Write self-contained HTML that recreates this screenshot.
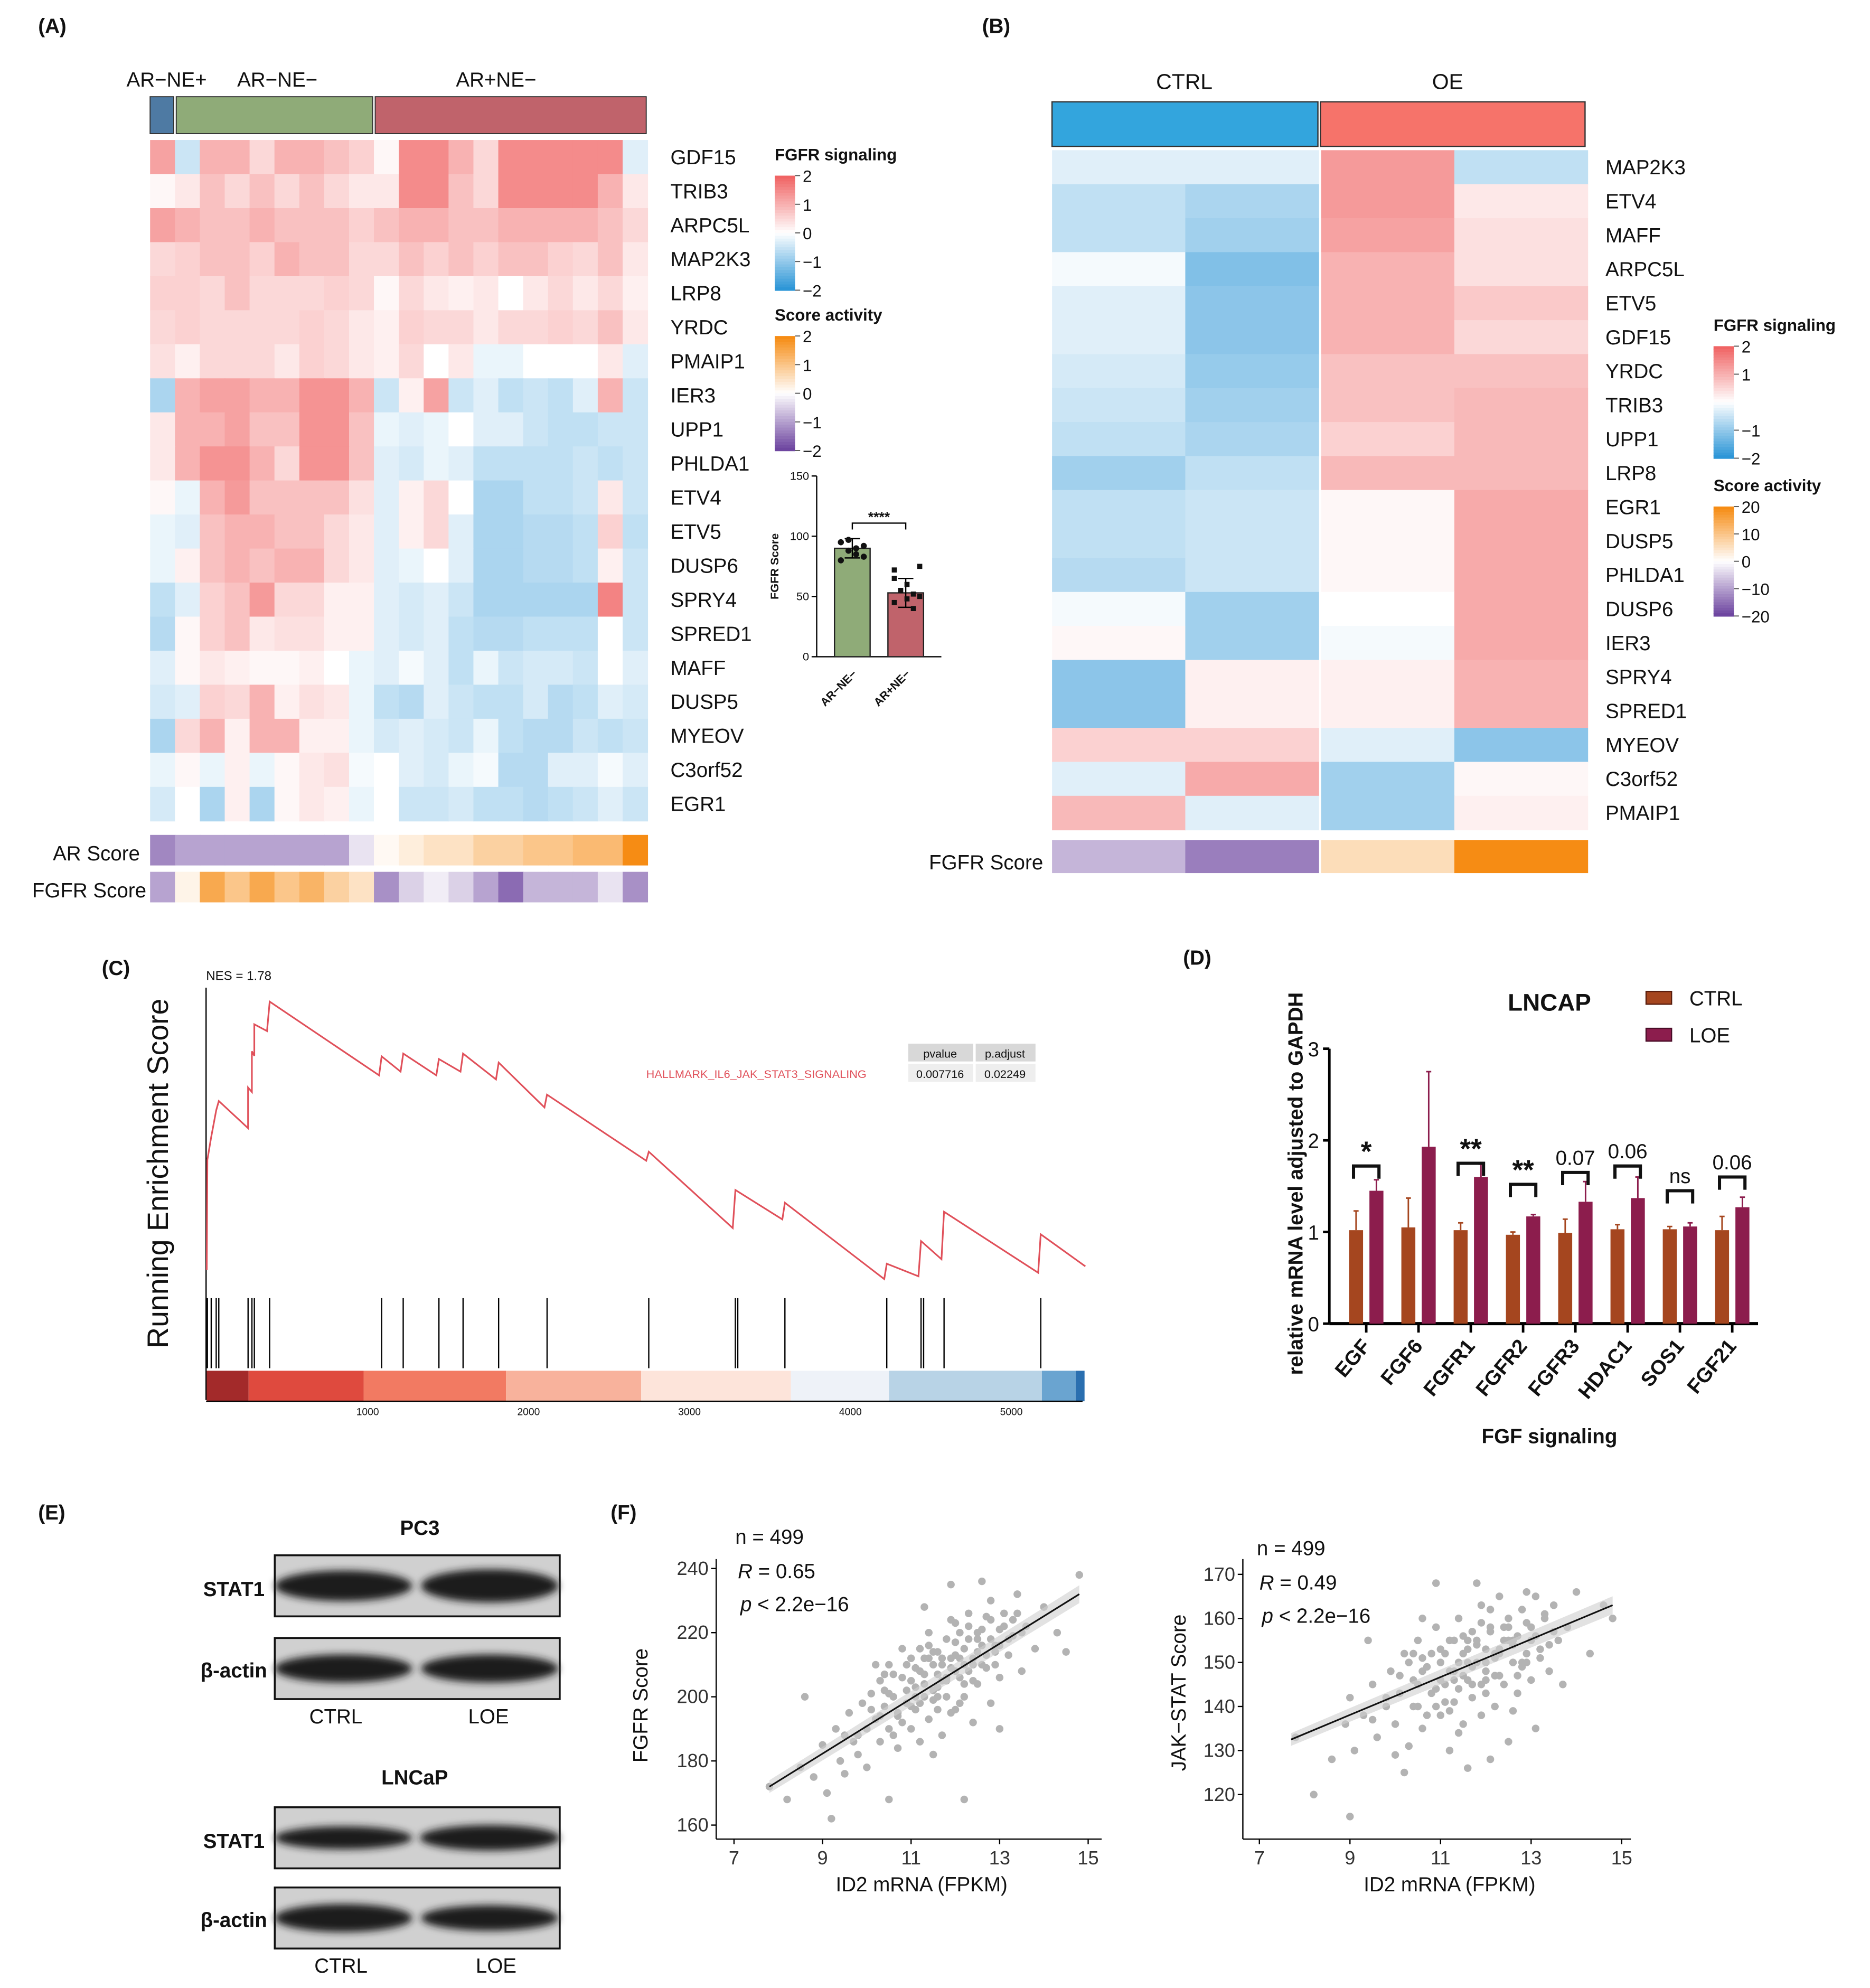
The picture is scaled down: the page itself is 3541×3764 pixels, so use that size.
<!DOCTYPE html>
<html><head><meta charset="utf-8"><style>
html,body{margin:0;padding:0;background:#fff;}
svg{display:block;font-family:"Liberation Sans",Arial,sans-serif;}
</style></head><body>
<svg id="fig" xmlns="http://www.w3.org/2000/svg" width="3541" height="3764" viewBox="0 0 1470 1562" preserveAspectRatio="none">
<defs><filter id="blur" x="-20%" y="-50%" width="140%" height="200%"><feGaussianBlur stdDeviation="3"/></filter></defs>
</svg>
<script>
// ---------- DATA ----------
const genesA=["GDF15","TRIB3","ARPC5L","MAP2K3","LRP8","YRDC","PMAIP1","IER3","UPP1","PHLDA1","ETV4","ETV5","DUSP6","SPRY4","SPRED1","MAFF","DUSP5","MYEOV","C3orf52","EGR1"];
const heatA=[
[1.2,-0.5,1,1,0.5,1,1,0.8,0.6,0.1,1.5,1.5,1,0.5,1.5,1.5,1.5,1.5,1.5,-0.3],
[0.1,0.3,0.8,0.5,0.8,0.5,0.8,0.5,0.3,0.3,1.5,1.5,0.8,0.5,1.5,1.5,1.5,1.5,1.0,0.3],
[1.2,1,0.8,0.8,1,0.8,0.8,0.8,0.6,0.8,1,1,0.8,0.8,1,1,1,1,0.8,0.5],
[0.5,0.6,0.8,0.8,0.6,1,0.8,0.8,0.5,0.5,0.8,0.6,0.8,0.6,0.8,0.8,0.6,0.5,0.8,0.3],
[0.6,0.6,0.5,0.8,0.5,0.5,0.5,0.6,0.5,0.1,0.5,0.3,0.2,0.3,0,0.3,0.5,0.3,0.5,0.2],
[0.5,0.6,0.5,0.5,0.5,0.5,0.6,0.5,0.3,0.2,0.6,0.5,0.5,0.3,0.5,0.5,0.6,0.5,0.8,0.3],
[0.4,0.2,0.5,0.5,0.5,0.3,0.6,0.5,0.3,0.2,0.5,0,0.3,-0.2,-0.2,0,0,0,0.3,-0.3],
[-0.8,1,1.2,1.2,1,1,1.4,1.4,1,-0.5,0.2,1.2,-0.5,-0.3,-0.6,-0.5,-0.6,-0.3,1,-0.5],
[0.3,1,1,1.2,0.8,0.8,1.4,1.4,0.8,-0.2,-0.3,-0.2,0,-0.3,-0.3,-0.5,-0.6,-0.6,-0.5,-0.5],
[0.3,1,1.4,1.4,1,0.5,1.4,1.4,0.8,-0.3,-0.4,-0.2,-0.3,-0.6,-0.6,-0.6,-0.6,-0.5,-0.6,-0.5],
[0.1,-0.2,1,1.3,0.8,0.8,0.8,0.8,0.4,-0.3,0.2,0.5,0,-0.8,-0.8,-0.6,-0.6,-0.5,0.3,-0.5],
[-0.2,-0.3,0.8,1,1,0.8,0.8,0.5,0.3,-0.3,0.2,0.5,-0.3,-0.8,-0.8,-0.7,-0.7,-0.6,0.6,-0.6],
[-0.2,0.2,0.8,1,0.8,1,1,0.5,0.3,-0.3,-0.2,0,-0.3,-0.8,-0.8,-0.7,-0.7,-0.6,0.2,-0.5],
[-0.6,-0.3,0.6,0.8,1.3,0.5,0.5,0.2,0.2,-0.3,-0.4,-0.3,-0.5,-0.8,-0.8,-0.8,-0.8,-0.8,1.6,-0.5],
[-0.7,0.1,0.6,0.8,0.3,0.4,0.4,0.2,0.2,-0.3,-0.4,-0.3,-0.6,-0.7,-0.7,-0.6,-0.6,-0.6,0,-0.5],
[-0.3,0.1,0.3,0.2,0.1,0.1,0.2,0,-0.2,-0.3,-0.1,-0.3,-0.6,-0.2,-0.5,-0.4,-0.4,-0.5,0,-0.3],
[-0.4,-0.3,0.6,0.5,1,0.2,0.4,0.3,-0.2,-0.6,-0.7,-0.3,-0.5,-0.6,-0.6,-0.4,-0.7,-0.6,-0.3,-0.4],
[-0.8,0.5,1,0.2,1,1,0.2,0.2,-0.2,-0.4,-0.3,-0.4,-0.5,-0.2,-0.6,-0.7,-0.7,-0.5,-0.6,-0.5],
[-0.2,0.1,-0.2,0.2,-0.2,0.1,0.3,0.4,-0.1,0,-0.3,-0.4,-0.2,-0.1,-0.7,-0.7,-0.3,-0.3,-0.1,-0.3],
[-0.4,0,-0.8,0.2,-0.8,0.1,0.3,0.2,-0.2,0,-0.5,-0.5,-0.4,-0.6,-0.6,-0.7,-0.6,-0.5,-0.3,-0.5]];
const arScoreA=[-1.3,-1,-1,-1,-1,-1,-1,-1,-0.3,0.1,0.3,0.5,0.5,0.8,0.8,1,1,1.2,1.2,2];
const fgfrScoreA=[-1,0.2,1.5,1,1.5,1,1.3,0.8,0.5,-1.2,-0.5,-0.2,-0.5,-1,-1.6,-0.8,-0.8,-0.8,-0.3,-1.2];
const groupsA=[{name:"AR−NE+",n:1,c:"#4e7aa3"},{name:"AR−NE−",n:8,c:"#8fab78"},{name:"AR+NE−",n:11,c:"#c0636b"}];
const barCatsA=["AR−NE−","AR+NE−"];
const barMeansA=[90,53];
const barErrA=[8,12];
const ptsGreen=[95,88,85,92,80,97,90,83];
const ptsRed=[45,55,60,40,50,65,55,48,52,75,72];

const genesB=["MAP2K3","ETV4","MAFF","ARPC5L","ETV5","GDF15","YRDC","TRIB3","UPP1","LRP8","EGR1","DUSP5","PHLDA1","DUSP6","IER3","SPRY4","SPRED1","MYEOV","C3orf52","PMAIP1"];
const heatB=[[-0.3,-0.3,1.3,-0.6],[-0.6,-0.8,1.3,0.3],[-0.6,-0.9,1.2,0.4],[-0.1,-1.2,1,0.4],[-0.3,-1.1,1,0.7],[-0.3,-1.1,1,0.5],[-0.4,-1.0,0.8,0.8],[-0.5,-0.9,0.8,0.9],[-0.6,-0.8,0.6,0.9],[-0.9,-0.6,0.9,0.9],[-0.6,-0.5,0.1,1.1],[-0.6,-0.5,0.1,1.1],[-0.7,-0.5,0.1,1.1],[-0.1,-0.9,0,1.1],[0.1,-0.9,-0.1,1.1],[-1.1,0.2,0.2,1.0],[-1.1,0.2,0.2,1.0],[0.6,0.6,-0.3,-1.1],[-0.3,1.1,-0.9,0.1],[0.9,-0.3,-0.9,0.2]];
const fgfrScoreB=[-8,-14,6,20];

const gseaRank=[0,4,28,59,75,257,257,281,281,296,296,375,391,1071,1087,1205,1221,1427,1443,1577,1593,1798,1814,2099,2115,2731,2747,3269,3285,3577,3593,4210,4226,4423,4439,4566,4582,5167,5183,5460];
const gseaES=[0.006,0.25,0.3,0.36,0.38,0.32,0.41,0.40,0.49,0.48,0.55,0.535,0.6,0.437,0.479,0.445,0.485,0.437,0.473,0.445,0.485,0.428,0.465,0.366,0.394,0.248,0.268,0.099,0.183,0.118,0.155,-0.014,0.02,-0.008,0.07,0.03,0.135,0,0.085,0.014];
const gseaHits=[4,28,59,75,257,281,296,391,1087,1221,1443,1593,1814,2115,2747,3285,3300,3593,4226,4439,4455,4582,5183];
const gseaTicks=[1000,2000,3000,4000,5000];

const genesD=["EGF","FGF6","FGFR1","FGFR2","FGFR3","HDAC1","SOS1","FGF21"];
const ctrlD=[1.02,1.05,1.02,0.97,0.99,1.03,1.03,1.02];
const ctrlErrD=[0.21,0.32,0.08,0.03,0.15,0.05,0.03,0.15];
const loeD=[1.45,1.93,1.6,1.17,1.33,1.37,1.06,1.27];
const loeErrD=[0.12,0.82,0.14,0.02,0.22,0.23,0.04,0.11];
const sigD=["*","","**","**","0.07","0.06","ns","0.06"];
const sigYD=[1.72,0,1.75,1.52,1.65,1.72,1.45,1.6];

const sc1X=[7.8,8.2,8.5,8.8,9.0,9.1,9.3,9.4,9.5,9.6,9.7,9.8,9.9,10.0,10.0,10.1,10.2,10.3,10.3,10.4,10.5,10.5,10.6,10.7,10.7,10.8,10.9,11.0,11.0,11.1,11.1,11.2,11.2,11.3,11.3,11.4,11.4,11.5,11.5,11.6,11.6,11.7,11.7,11.8,11.8,11.9,11.9,12.0,12.0,12.1,12.1,12.2,12.2,12.3,12.3,12.4,12.4,12.5,12.5,12.6,12.7,12.7,12.8,12.8,12.9,13.0,13.0,13.1,13.2,13.3,13.4,13.5,13.6,13.8,14.0,14.3,14.8,9.2,10.5,12.2,11.5,10.8,11.9,8.6,13.0,12.6,10.2,11.3,14.5,
10.1,10.4,10.6,10.9,11.0,11.2,11.4,11.5,11.7,11.8,12.0,12.1,12.3,12.4,12.6,12.8,12.9,13.1,13.3,10.8,11.1,11.6,12.2,12.5,11.9,11.3,10.7,12.7,13.2,9.8,10.3,11.0,11.6,12.0,12.4,12.9,11.2,11.8,10.5,12.2,11.4,11.9,12.6,10.9,11.5,12.1,13.0,10.6,11.7,12.3,9.5,13.5,12.8,11.1,11.6,10.4,12.0,13.4,11.3,12.5];
const sc1Y=[172,168,178,175,185,170,190,180,176,195,186,182,198,190,178,201,193,186,205,197,190,210,200,194,184,206,198,212,190,203,196,215,186,207,200,193,220,210,202,196,214,205,188,218,200,209,224,213,196,206,220,200,215,226,208,212,192,220,204,216,225,209,198,230,214,221,206,226,213,219,232,208,222,215,228,220,238,162,168,168,182,215,235,200,190,236,210,228,214,
196,202,188,202,205,208,212,199,210,205,217,212,218,205,221,218,210,222,224,192,200,207,210,214,212,204,195,213,218,188,194,197,203,208,210,216,198,206,201,204,216,195,210,210,214,198,216,207,212,222,188,220,224,209,200,207,223,226,212,218];
const sc2X=[7.8,8.2,8.6,8.9,9.0,9.1,9.3,9.5,9.6,9.8,9.9,10.0,10.1,10.2,10.3,10.4,10.5,10.5,10.6,10.7,10.8,10.9,11.0,11.0,11.1,11.2,11.2,11.3,11.3,11.4,11.5,11.5,11.6,11.7,11.7,11.8,11.9,11.9,12.0,12.0,12.1,12.2,12.2,12.3,12.3,12.4,12.5,12.5,12.6,12.7,12.7,12.8,12.9,13.0,13.0,13.1,13.2,13.3,13.4,13.5,13.6,13.8,14.0,14.3,14.8,9.0,10.2,11.6,12.1,13.1,10.9,11.8,9.4,12.9,10.6,11.4,12.6,10.0,13.7,14.6,
10.1,10.4,10.6,10.9,11.0,11.2,11.4,11.5,11.7,11.8,12.0,12.1,12.3,12.4,12.6,12.8,12.9,13.1,13.3,10.8,11.1,11.6,12.2,12.5,11.9,11.3,10.7,12.7,13.2,9.8,10.3,11.0,11.6,12.0,12.4,12.9,11.2,11.8,10.5,12.2,11.4,11.9,12.6,10.9,11.5,12.1,13.0,10.6,11.7,12.3,9.5,13.5,12.8,11.1,11.6,10.4,12.0,13.4,11.3,12.5];
const sc2Y=[133,120,128,136,142,130,138,145,133,140,148,136,143,152,131,146,140,155,135,149,143,158,138,150,145,130,155,148,141,160,152,136,146,157,142,150,163,138,153,146,158,140,151,165,147,155,132,160,150,156,143,162,152,158,146,165,153,160,148,163,155,158,166,152,160,115,125,126,128,135,168,168,155,166,160,134,139,129,145,163,
147,140,151,144,153,148,150,156,149,154,150,157,152,145,155,150,159,156,161,152,141,153,147,155,145,155,138,147,151,142,150,146,150,143,158,150,139,155,145,152,144,159,154,140,147,162,155,148,145,153,137,157,149,152,155,152,148,154,146,158];

// ---------- HELPERS ----------
const svg=document.getElementById('fig');
const NS="http://www.w3.org/2000/svg";
function mk(tag,attrs,name,parent){
  const el=document.createElementNS(NS,tag);
  for(const k in attrs) el.setAttribute(k,attrs[k]);
  
  
  (parent||svg).appendChild(el);
  return el;
}
function txt(x,y,s,size,name,o){
  o=o||{};
  const a={x:x,y:y,'font-size':size,fill:o.fill||'#111','text-anchor':o.anchor||'start'};
  if(o.bold) a['font-weight']='bold';
  if(o.rot!==undefined) a.transform='rotate('+o.rot+' '+x+' '+y+')';
  if(o.italic) a['font-style']='italic';
  const t=mk('text',a,name);
  t.textContent=s;
  return t;
}
function lerp(a,b,t){return Math.round(a+(b-a)*t);}
function mix(c1,c2,t){return 'rgb('+lerp(c1[0],c2[0],t)+','+lerp(c1[1],c2[1],t)+','+lerp(c1[2],c2[2],t)+')';}
const WHITE=[255,255,255],RED=[240,100,100],BLUE=[45,150,215],ORANGE=[246,140,20],PURPLE=[110,70,160];
function fgfrCol(v,m){m=m||2;let t=Math.max(-1,Math.min(1,v/m));return t>=0?mix(WHITE,RED,t):mix(WHITE,BLUE,-t);}
function scoreCol(v,m){m=m||2;let t=Math.max(-1,Math.min(1,v/m));return t>=0?mix(WHITE,ORANGE,t):mix(WHITE,PURPLE,-t);}
function line(x1,y1,x2,y2,name,c,w){return mk('line',{x1:x1,y1:y1,x2:x2,y2:y2,stroke:c||'#000','stroke-width':w||1},name);}

[["(A)",30,26],["(B)",772,26],["(C)",80,766],["(D)",930,758],["(E)",30,1194],["(F)",480,1194]].forEach(p=>txt(p[1],p[2],p[0],16,'panel-label',{bold:true}));

function legend(x,y,title,ticks,colfn,max,h,name){
  txt(x,y,title,13,name+'-title',{bold:true});
  const n=40;
  for(let i=0;i<n;i++){
    const v=max-(2*max)*i/(n-1);
    mk('rect',{x:x,y:y+12+i*h/n,width:16,height:h/n+0.5,fill:colfn(v,max)},name+'-swatch');
  }
  ticks.forEach(t=>{
    const ty=y+12+(max-t)/(2*max)*h;
    line(x+16,ty,x+20,ty,name+'-tick','#555',0.8);
    txt(x+22,ty+5,t<0?'−'+Math.abs(t):String(t),13,name+'-tick-label');
  });
}

// ---------- PANEL A ----------
(function(){
  const x0=118,cw=19.55,y0=110,rh=26.75;
  let ci=0;
  groupsA.forEach((g,gi)=>{
    const gx=x0+ci*cw+(gi>0?1:0);
    mk('rect',{x:gx,y:76,width:g.n*cw-(gi>0?1:0)-1,height:29,fill:g.c,stroke:'#333','stroke-width':0.8},'group-bar-'+gi);
    ci+=g.n;
  });
  txt(131,68,"AR−NE+",16,'group-label',{anchor:'middle'});
  txt(218,68,"AR−NE−",16,'group-label',{anchor:'middle'});
  txt(390,68,"AR+NE−",16,'group-label',{anchor:'middle'});
  heatA.forEach((row,r)=>{
    row.forEach((v,c)=>{
      mk('rect',{x:x0+c*cw,y:y0+r*rh,width:cw+0.4,height:rh+0.4,fill:fgfrCol(v)},'heatmap-a-cell');
    });
    txt(527,y0+r*rh+19,genesA[r],16,'gene-label-a');
  });
  arScoreA.forEach((v,c)=>mk('rect',{x:x0+c*cw,y:656,width:cw+0.4,height:24,fill:scoreCol(v)},'ar-score-cell'));
  fgfrScoreA.forEach((v,c)=>mk('rect',{x:x0+c*cw,y:685,width:cw+0.4,height:24,fill:scoreCol(v)},'fgfr-score-cell-a'));
  txt(110,676,"AR Score",16,'ar-score-label',{anchor:'end'});
  txt(115,705,"FGFR Score",16,'fgfr-score-label-a',{anchor:'end'});
  legend(609,126,"FGFR signaling",[2,1,0,-1,-2],fgfrCol,2,90,'legend-fgfr-a');
  legend(609,252,"Score activity",[2,1,0,-1,-2],scoreCol,2,90,'legend-score-a');
  const bx0=642,bx1=740,by0=516,by1=374;
  const yv=v=>by0-(v/150)*(by0-by1);
  line(bx0,by1,bx0,by0,'bar-a-y-axis');
  line(bx0,by0,bx1,by0,'bar-a-x-axis');
  [0,50,100,150].forEach(t=>{line(bx0-4,yv(t),bx0,yv(t),'bar-a-tick');txt(bx0-6,yv(t)+3,String(t),9,'bar-a-tick-label',{anchor:'end'});});
  txt(612,445,"FGFR Score",9,'bar-a-y-title',{anchor:'middle',rot:-90,bold:true});
  const cols=["#8fab78","#c0636b"],cx=[670,712];
  barMeansA.forEach((m,i)=>{
    mk('rect',{x:cx[i]-14,y:yv(m),width:28,height:by0-yv(m),fill:cols[i],stroke:'#222','stroke-width':1},'bar-a-'+i);
    line(cx[i],yv(m-barErrA[i]),cx[i],yv(m+barErrA[i]),'bar-a-error');
    line(cx[i]-6,yv(m+barErrA[i]),cx[i]+6,yv(m+barErrA[i]),'bar-a-error-cap');
    line(cx[i]-6,yv(m-barErrA[i]),cx[i]+6,yv(m-barErrA[i]),'bar-a-error-cap');
    txt(cx[i]+4,530,barCatsA[i],9,'bar-a-x-label',{anchor:'end',rot:-45,bold:true});
  });
  ptsGreen.forEach((v,i)=>mk('circle',{cx:cx[0]-9+(i%4)*6,cy:yv(v),r:2.4,fill:'#111'},'bar-a-point'));
  ptsRed.forEach((v,i)=>mk('rect',{x:cx[1]-11+(i%5)*5,y:yv(v)-2,width:4,height:4,fill:'#111'},'bar-a-point'));
  mk('path',{d:'M670,416 V411 H712 V416',fill:'none',stroke:'#000','stroke-width':1},'sig-bracket-a');
  txt(691,410,"****",11,'sig-label-a',{anchor:'middle',bold:true});
})();

// ---------- PANEL B ----------
(function(){
  const x0=827,cw=104.75,y0=118,rh=26.7;
  mk('rect',{x:827,y:80,width:209,height:35,fill:'#33a5dd',stroke:'#333','stroke-width':1},'group-bar-ctrl');
  mk('rect',{x:1038,y:80,width:208,height:35,fill:'#f6736a',stroke:'#333','stroke-width':1},'group-bar-oe');
  txt(931,70,"CTRL",17,'group-label-b',{anchor:'middle'});
  txt(1138,70,"OE",17,'group-label-b',{anchor:'middle'});
  heatB.forEach((row,r)=>{
    row.forEach((v,c)=>mk('rect',{x:x0+c*cw+(c>1?2:0),y:y0+r*rh,width:cw+0.4,height:rh+0.4,fill:fgfrCol(v,2)},'heatmap-b-cell'));
    txt(1262,y0+r*rh+19,genesB[r],16,'gene-label-b');
  });
  fgfrScoreB.forEach((v,c)=>mk('rect',{x:x0+c*cw+(c>1?2:0),y:660,width:cw+0.4,height:26,fill:scoreCol(v,20)},'fgfr-score-cell-b'));
  txt(820,683,"FGFR Score",16,'fgfr-score-label-b',{anchor:'end'});
  legend(1347,260,"FGFR signaling",[2,1,-1,-2],fgfrCol,2,88,'legend-fgfr-b');
  legend(1347,386,"Score activity",[20,10,0,-10,-20],scoreCol,20,86,'legend-score-b');
})();

// ---------- PANEL C ----------
(function(){
  const xr=r=>162.5+r*0.1265, ye=e=>1000-e*355;
  line(162,776,162,1100,'gsea-y-axis','#000',1);
  txt(162,770,"NES = 1.78",10,'nes-label');
  txt(132,922,"Running Enrichment Score",23,'gsea-y-title',{anchor:'middle',rot:-90});
  let d='';
  gseaRank.forEach((r,i)=>{d+=(i?'L':'M')+xr(r).toFixed(1)+','+ye(gseaES[i]).toFixed(1);});
  mk('path',{d:d,fill:'none',stroke:'#e0505a','stroke-width':1.3},'gsea-curve');
  gseaHits.forEach(r=>line(xr(r),1020,xr(r),1075,'gsea-hit','#000',1));
  const segs=[[0,260,'#a32a2a'],[260,975,'#df4a3e'],[975,1860,'#f27a62'],[1860,2700,'#f8b29c'],[2700,3630,'#fde4da'],[3630,4240,'#eef2f8'],[4240,5190,'#b8d3e6'],[5190,5400,'#6aa4d0'],[5400,5455,'#2a6fb0']];
  segs.forEach(s=>mk('rect',{x:xr(s[0]),y:1077,width:xr(s[1])-xr(s[0]),height:24,fill:s[2]},'gsea-rank-bar'));
  line(162,1101,851,1101,'gsea-x-axis','#000',1);
  gseaTicks.forEach(t=>txt(xr(t),1112,String(t),8,'gsea-tick-label',{anchor:'middle'}));
  mk('rect',{x:714,y:820,width:51,height:14,fill:'#d8d8d8'},'gsea-table-header');
  mk('rect',{x:767,y:820,width:47,height:14,fill:'#d8d8d8'},'gsea-table-header');
  mk('rect',{x:714,y:836,width:51,height:14,fill:'#eeeeee'},'gsea-table-cell');
  mk('rect',{x:767,y:836,width:47,height:14,fill:'#eeeeee'},'gsea-table-cell');
  txt(739,831,"pvalue",9,'gsea-table-text',{anchor:'middle'});
  txt(790,831,"p.adjust",9,'gsea-table-text',{anchor:'middle'});
  txt(739,847,"0.007716",9,'gsea-table-text',{anchor:'middle'});
  txt(790,847,"0.02249",9,'gsea-table-text',{anchor:'middle'});
  txt(508,847,"HALLMARK_IL6_JAK_STAT3_SIGNALING",9,'gsea-set-label',{fill:'#e0505a'});
})();

// ---------- PANEL D ----------
(function(){
  const ax=1045,y0=1040,sc=72;
  const yv=v=>y0-v*sc;
  line(ax,yv(3),ax,y0,'d-y-axis','#000',2);
  line(ax,y0,1382,y0,'d-x-axis','#000',2.5);
  [0,1,2,3].forEach(t=>{line(ax-5,yv(t),ax,yv(t),'d-tick','#000',2);txt(ax-8,yv(t)+6,String(t),16,'d-tick-label',{anchor:'end'});});
  txt(1024,930,"relative mRNA level adjusted to GAPDH",16,'d-y-title',{anchor:'middle',rot:-90,bold:true});
  genesD.forEach((g,i)=>{
    const c=1074+i*41.1;
    const xc=c-8,xl=c+8;
    mk('rect',{x:xc-5.5,y:yv(ctrlD[i]),width:11,height:y0-yv(ctrlD[i]),fill:'#a5461f'},'bar-ctrl');
    mk('rect',{x:xl-5.5,y:yv(loeD[i]),width:11,height:y0-yv(loeD[i]),fill:'#8c1d4d'},'bar-loe');
    line(xc,yv(ctrlD[i]),xc,yv(ctrlD[i]+ctrlErrD[i]),'err-ctrl','#a5461f',1.2);
    line(xc-2,yv(ctrlD[i]+ctrlErrD[i]),xc+2,yv(ctrlD[i]+ctrlErrD[i]),'err-ctrl-cap','#a5461f',1.2);
    line(xl,yv(loeD[i]),xl,yv(loeD[i]+loeErrD[i]),'err-loe','#8c1d4d',1.2);
    line(xl-2,yv(loeD[i]+loeErrD[i]),xl+2,yv(loeD[i]+loeErrD[i]),'err-loe-cap','#8c1d4d',1.2);
    line(c,y0,c,y0+7,'d-x-tick','#000',2);
    txt(c+4,1058,g,16,'d-x-label',{anchor:'end',rot:-50,bold:true});
    if(sigD[i]){
      const by=yv(sigYD[i]);
      mk('path',{d:'M'+(xc-2)+','+(by+10)+' V'+by+' H'+(xl+2)+' V'+(by+10),fill:'none',stroke:'#111','stroke-width':2.5},'sig-bracket-d');
      const star=sigD[i].indexOf('*')>=0;
      txt(c,by-(star?4:6),sigD[i],star?22:16,'sig-label-d',{anchor:'middle',bold:star});
    }
  });
  txt(1218,794,"LNCAP",19,'d-title',{anchor:'middle',bold:true});
  mk('rect',{x:1294,y:779,width:20,height:10,fill:'#a5461f',stroke:'#5a1e0e'},'legend-ctrl-swatch');
  txt(1328,790,"CTRL",16,'legend-ctrl-label');
  mk('rect',{x:1294,y:808,width:20,height:10,fill:'#8c1d4d',stroke:'#4a0d28'},'legend-loe-swatch');
  txt(1328,819,"LOE",16,'legend-loe-label');
  txt(1218,1134,"FGF signaling",16,'d-x-title',{anchor:'middle',bold:true});
})();

// ---------- PANEL E ----------
(function(){
  function blot(y,name,bands){
    mk('rect',{x:216,y:y,width:224,height:48,fill:'#d0d0d0',stroke:'#111','stroke-width':1.5},name+'-frame');
    bands.forEach(b=>mk('ellipse',{cx:b[0],cy:y+24,rx:b[1],ry:b[2],fill:'#1a1a1a',filter:'url(#blur)'},name+'-band'));
  }
  txt(330,1206,"PC3",16,'e-cell-label',{anchor:'middle',bold:true});
  blot(1222,'pc3-stat1',[[270,54,12],[385,54,13]]);
  blot(1287,'pc3-actin',[[270,54,11],[385,54,11]]);
  txt(208,1254,"STAT1",16,'e-protein-label',{anchor:'end',bold:true});
  txt(210,1318,"β-actin",16,'e-protein-label',{anchor:'end',bold:true});
  txt(264,1354,"CTRL",16,'e-lane-label',{anchor:'middle'});
  txt(384,1354,"LOE",16,'e-lane-label',{anchor:'middle'});
  txt(326,1402,"LNCaP",16,'e-cell-label',{anchor:'middle',bold:true});
  blot(1420,'lncap-stat1',[[270,54,9],[385,55,10]]);
  blot(1483,'lncap-actin',[[270,54,11],[385,54,10]]);
  txt(208,1452,"STAT1",16,'e-protein-label',{anchor:'end',bold:true});
  txt(210,1514,"β-actin",16,'e-protein-label',{anchor:'end',bold:true});
  txt(268,1550,"CTRL",16,'e-lane-label',{anchor:'middle'});
  txt(390,1550,"LOE",16,'e-lane-label',{anchor:'middle'});
})();

// ---------- PANEL F ----------
function scatter(o){
  const xv=v=>o.x7+(v-7)*o.xs, yv=v=>o.yb-(v-o.ymin)*o.ys;
  line(o.ax,o.top,o.ax,o.bottom,o.name+'-y-axis','#000',1);
  line(o.ax,o.bottom,o.right,o.bottom,o.name+'-x-axis','#000',1);
  [7,9,11,13,15].forEach(t=>{line(xv(t),o.bottom,xv(t),o.bottom+4,o.name+'-x-tick');txt(xv(t),o.bottom+20,String(t),15,o.name+'-x-tick-label',{anchor:'middle',fill:'#333'});});
  o.yt.forEach(t=>{line(o.ax-4,yv(t),o.ax,yv(t),o.name+'-y-tick');txt(o.ax-6,yv(t)+5,String(t),15,o.name+'-y-tick-label',{anchor:'end',fill:'#333'});});
  o.X.forEach((x,i)=>mk('circle',{cx:xv(x),cy:yv(o.Y[i]),r:3,fill:'#b3b3b3'},o.name+'-point'));
  const l=o.line;
  mk('path',{d:'M'+xv(l[0])+','+(yv(l[1])-5)+' L'+xv(l[2])+','+(yv(l[3])-7)+' L'+xv(l[2])+','+(yv(l[3])+7)+' L'+xv(l[0])+','+(yv(l[1])+5)+'Z',fill:'#cfcfcf',opacity:0.6},o.name+'-ci-band');
  line(xv(l[0]),yv(l[1]),xv(l[2]),yv(l[3]),o.name+'-regression-line','#111',1.3);
  txt(o.lx,o.ly,"n = 499",16,o.name+'-n-label');
  const r=txt(o.lx+2,o.ly+27,"",16,o.name+'-r-label');
  r.innerHTML='<tspan font-style="italic">R</tspan> = '+o.R;
  const p=txt(o.lx+4,o.ly+53,"",16,o.name+'-p-label');
  p.innerHTML='<tspan font-style="italic">p</tspan> &lt; 2.2e−16';
  txt(o.ytx,o.yty,o.ytitle,16,o.name+'-y-title',{anchor:'middle',rot:-90});
  txt((o.ax+o.right)/2+10,1486,"ID2 mRNA (FPKM)",16,o.name+'-x-title',{anchor:'middle'});
}
scatter({name:'scatter-fgfr',X:sc1X,Y:sc1Y,x7:577,xs:34.8,yb:1434,ymin:160,ys:2.52,ax:563,right:866,top:1225,bottom:1445,yt:[160,180,200,220,240],line:[7.8,172,14.8,232],lx:578,ly:1213,R:'0.65',ytitle:'FGFR Score',ytx:509,yty:1340});
scatter({name:'scatter-jak',X:sc2X,Y:sc2Y,x7:990,xs:35.6,yb:1410,ymin:120,ys:3.46,ax:977,right:1282,top:1225,bottom:1445,yt:[120,130,140,150,160,170],line:[7.7,132.5,14.8,163],lx:988,ly:1222,R:'0.49',ytitle:'JAK−STAT Score',ytx:932,yty:1330});
</script>
</body></html>
